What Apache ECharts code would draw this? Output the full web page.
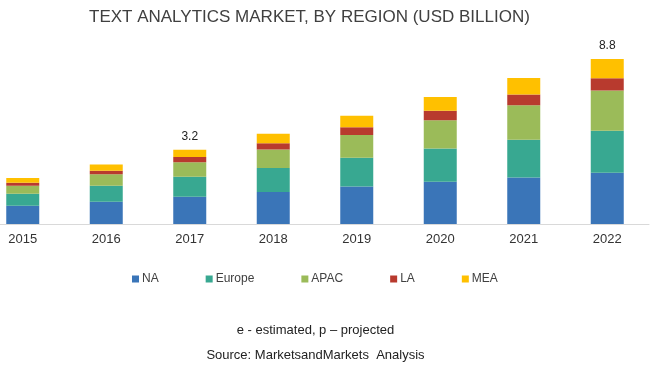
<!DOCTYPE html>
<html>
<head>
<meta charset="utf-8">
<script src="https://cdn.jsdelivr.net/npm/echarts@6/dist/echarts.min.js"></script>
<style>
  html, body { margin: 0; padding: 0; background: #fff; overflow: hidden; }
  /* first column sits partly off the left edge in the original */
  #chart1 { width: 669px; height: 376px; margin-left: -19px; }
</style>
</head>
<body>
<div id="chart1"></div>
<script>
// years on the x axis
var years = ["2015", "2016", "2017", "2018", "2019", "2020", "2021", "2022"];
// stacked segment values (USD billion)
var na     = [0.97, 1.19, 1.45, 1.70, 2.00, 2.25, 2.48, 2.73];
var europe = [0.64, 0.85, 1.06, 1.28, 1.52, 1.76, 2.00, 2.23];
var apac   = [0.43, 0.60, 0.78, 0.98, 1.21, 1.51, 1.84, 2.14];
var la     = [0.16, 0.19, 0.27, 0.34, 0.41, 0.50, 0.57, 0.65];
var mea    = [0.25, 0.34, 0.39, 0.50, 0.62, 0.74, 0.87, 1.03];
// totals printed above some bars
var totalLabels = ["", "", "3.2", "", "", "", "", "8.8"];

var regions = ["NA", "Europe", "APAC", "LA", "MEA"];
var colors = ["#3a75b8", "#38a891", "#9bbb59", "#b83a2e", "#ffc000"];

(function () {
    var mychart = echarts.init(document.getElementById("chart1"));
    var values = [na, europe, apac, la, mea];
    var series = regions.map(function (name, i) {
        var s = {
            name: name,
            type: "bar",
            stack: "total",
            barWidth: 33,
            data: values[i],
            itemStyle: { color: colors[i] }
        };
        // only the top segment carries the total label
        if (i === regions.length - 1) {
            s.label = {
                show: true,
                position: "top",
                distance: 7,
                color: "#222",
                fontSize: 12,
                fontFamily: "Liberation Sans",
                formatter: function (p) { return totalLabels[p.dataIndex]; }
            };
        }
        return s;
    });
    var option = {
        animation: false,
        color: colors,
        title: [{
            text: "TEXT ANALYTICS MARKET, BY REGION (USD BILLION)",
            left: 103,
            top: 4,
            textStyle: { color: "#404040", fontWeight: "normal", fontSize: 17, fontFamily: "Liberation Sans" }
        }, {
            text: "e - estimated, p \u2013 projected",
            left: "center",
            top: 319,
            textStyle: { color: "#222", fontWeight: "normal", fontSize: 13, fontFamily: "Liberation Sans" }
        }, {
            text: "Source: MarketsandMarkets  Analysis",
            left: "center",
            top: 344,
            textStyle: { color: "#222", fontWeight: "normal", fontSize: 13, fontFamily: "Liberation Sans" }
        }],
        legend: {
            data: regions,
            left: 146,
            top: 268,
            icon: "rect",
            itemWidth: 7,
            itemHeight: 7,
            itemGap: 47,
            textStyle: { color: "#404040", fontSize: 12, fontFamily: "Liberation Sans", padding: [0, 0, 0, -2] }
        },
        grid: {
            left: 0,
            right: 1,
            top: 36,
            bottom: 152,
            containLabel: false
        },
        xAxis: {
            type: "category",
            data: years,
            axisLine: { lineStyle: { color: "#d9d9d9" } },
            axisTick: { show: false },
            axisLabel: { color: "#333", fontSize: 13, fontFamily: "Liberation Sans", margin: 9 }
        },
        yAxis: {
            type: "value",
            min: 0,
            max: 10,
            show: false,
            splitLine: { show: false }
        },
        series: series
    };
    mychart.setOption(option);
})();
</script>
</body>
</html>
